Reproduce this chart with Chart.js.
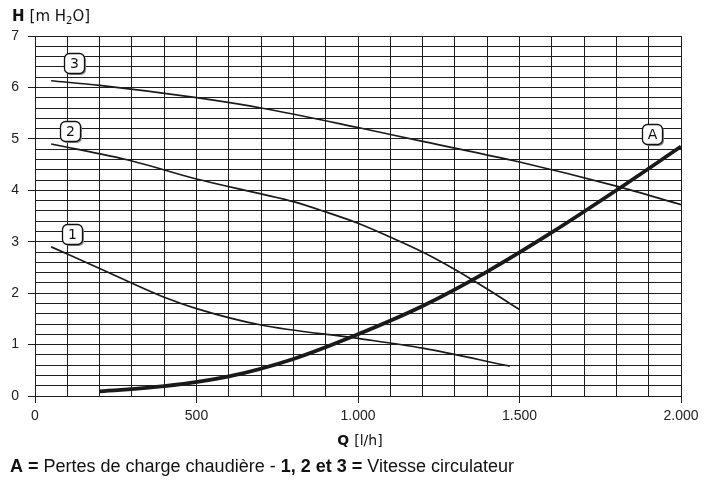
<!DOCTYPE html>
<html>
<head>
<meta charset="utf-8">
<style>
  html, body { margin: 0; padding: 0; background: #fff; }
  #wrap { width: 716px; height: 483px; position: relative; }
</style>
<script src="https://cdn.jsdelivr.net/npm/chart.js@4.4.1/dist/chart.umd.min.js"></script>
</head>
<body>
<div id="wrap"><canvas id="myChart" width="716" height="483"></canvas></div>
<script>
/* globals Chart:false */
// Q [l/h] / H [m H2O]
const q1 = [50, 200, 400, 500, 700, 1000, 1200, 1470];
const h1 = [2.9, 2.48, 1.92, 1.7, 1.38, 1.12, 0.93, 0.58];

const q2 = [50, 300, 500, 700, 800, 900, 1000, 1100, 1200, 1300, 1400, 1500];
const h2 = [4.9, 4.57, 4.22, 3.93, 3.78, 3.58, 3.36, 3.09, 2.8, 2.46, 2.08, 1.68];

const q3 = [50, 200, 500, 700, 1000, 1200, 1500, 1800, 2000];
const h3 = [6.13, 6.04, 5.8, 5.6, 5.22, 4.95, 4.55, 4.08, 3.72];

const qA = [200, 400, 600, 800, 1000, 1200, 1400, 1600, 1800, 2000];
const hA = [0.09, 0.19, 0.38, 0.72, 1.2, 1.75, 2.42, 3.18, 4.0, 4.85];

// curve tags: [text, Q, H]
const tags = [['3', 120, 6.48], ['2', 108, 5.16], ['1', 115, 3.15], ['A', 1910, 5.1]];

const xTicks = [0, 500, 1000, 1500, 2000];
const yTicks = [0, 1, 2, 3, 4, 5, 6, 7];

const toPts = (xs, ys) => xs.map((x, i) => ({ x: x, y: ys[i] }));

const line = (label, xs, ys, w) => ({
  label: label,
  data: toPts(xs, ys),
  borderColor: '#1a1a1a',
  borderWidth: w,
  pointRadius: 0,
  cubicInterpolationMode: 'monotone',
  fill: false
});

const isTick = (v, list) => list.some(t => Math.abs(t - v) < 1e-6);

const TITLE_FONT = '"DejaVu Sans", sans-serif';
const BODY_FONT = '"Liberation Sans", Arial, sans-serif';

const textPlugin = {
  id: 'texts',
  afterDatasetsDraw(chart) {
    const c = chart.ctx;
    const xs = chart.scales.x;
    const ys = chart.scales.y;
    // tag boxes
    tags.forEach(([t, qx, hy]) => {
      const px = Math.round(xs.getPixelForValue(qx));
      const py = Math.round(ys.getPixelForValue(hy));
      const w = 20, h = 20;
      c.save();
      c.fillStyle = '#8c8c8c';
      c.beginPath();
      c.roundRect(px - w / 2 + 2, py - h / 2 + 2, w, h, 5);
      c.fill();
      c.fillStyle = '#fff';
      c.strokeStyle = '#111';
      c.lineWidth = 1.3;
      c.beginPath();
      c.roundRect(px - w / 2 + 0.5, py - h / 2 + 0.5, w, h, 5);
      c.fill();
      c.stroke();
      c.fillStyle = '#111';
      c.font = '14px ' + TITLE_FONT;
      c.textAlign = 'center';
      c.textBaseline = 'middle';
      c.fillText(t, px + 0.5, py + 1);
      c.restore();
    });
  },
  afterDraw(chart) {
    const c = chart.ctx;
    c.save();
    c.fillStyle = '#111';
    c.textBaseline = 'alphabetic';
    // y title
    let x = 12;
    c.font = 'bold 15px ' + TITLE_FONT;
    c.fillText('H', x, 21);
    x += c.measureText('H').width + 5;
    c.font = '15px ' + TITLE_FONT;
    c.fillText('[m H', x, 21);
    x += c.measureText('[m H').width;
    c.font = '10px ' + TITLE_FONT;
    c.fillText('2', x, 24);
    x += c.measureText('2').width;
    c.font = '15px ' + TITLE_FONT;
    c.fillText('O]', x, 21);
    // x title
    c.font = 'bold 14px ' + TITLE_FONT;
    const wa = c.measureText('Q').width + 5;
    c.font = '14px ' + TITLE_FONT;
    const wb = c.measureText('[l/h]').width;
    const x0 = 360 - (wa + wb) / 2;
    c.font = 'bold 14px ' + TITLE_FONT;
    c.fillText('Q', x0, 445);
    c.font = '14px ' + TITLE_FONT;
    c.fillText('[l/h]', x0 + wa, 445);
    // footer
    const parts = [
      ['A = ', true], ['Pertes de charge chaudière - ', false],
      ['1, 2 et 3 = ', true], ['Vitesse circulateur', false]
    ];
    let fx = 10;
    parts.forEach(([s, bold]) => {
      c.font = (bold ? 'bold ' : '') + '18px ' + BODY_FONT;
      c.fillText(s, fx, 472);
      fx += c.measureText(s).width;
    });
    c.restore();
  }
};

const ctx = document.getElementById('myChart');
const myChart = new Chart(ctx, {
  type: 'line',
  data: {
    datasets: [
      line('1', q1, h1, 1.7),
      line('2', q2, h2, 1.7),
      line('3', q3, h3, 1.7),
      line('A', qA, hA, 3.8)
    ]
  },
  options: {
    responsive: false,
    animation: false,
    layout: { padding: { top: 36, right: 35, left: 0, bottom: 0 } },
    plugins: {
      legend: { display: false },
      tooltip: { enabled: false }
    },
    scales: {
      x: {
        type: 'linear',
        min: 0,
        max: 2000,
        afterFit: s => { s.height = 87; },
        border: { display: false },
        grid: {
          color: '#1e1e1e',
          lineWidth: 1,
          tickLength: 7,
          tickColor: c => isTick(c.tick.value, xTicks) ? '#1e1e1e' : 'rgba(0,0,0,0)'
        },
        ticks: {
          stepSize: 100,
          autoSkip: false,
          maxRotation: 0,
          padding: 5,
          color: '#222',
          font: { family: BODY_FONT, size: 14 },
          callback: v => isTick(v, xTicks) ? (v === 0 ? '0' : v.toLocaleString('de-DE')) : ''
        }
      },
      y: {
        min: 0,
        max: 7,
        afterFit: s => { s.width = 35; },
        border: { display: false },
        grid: {
          color: '#1e1e1e',
          lineWidth: 1,
          tickLength: 7,
          tickColor: c => isTick(c.tick.value, yTicks) ? '#1e1e1e' : 'rgba(0,0,0,0)'
        },
        ticks: {
          stepSize: 0.2,
          autoSkip: false,
          padding: 9,
          color: '#222',
          font: { family: BODY_FONT, size: 14 },
          callback: v => isTick(v, yTicks) ? String(Math.round(v)) : ''
        }
      }
    }
  },
  plugins: [textPlugin]
});
</script>
</body>
</html>
